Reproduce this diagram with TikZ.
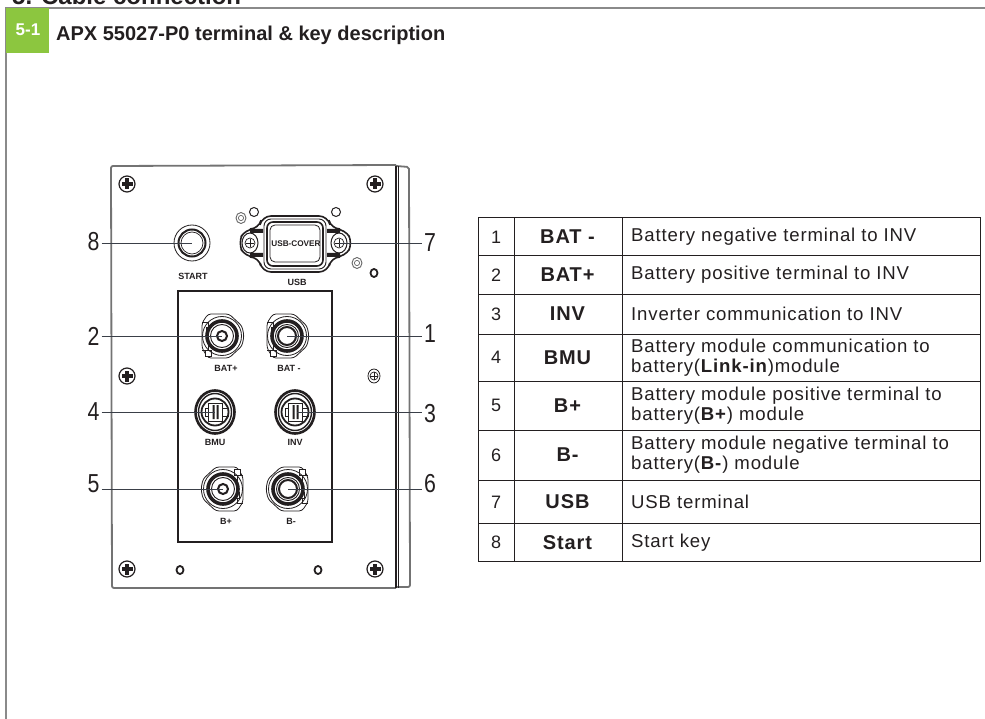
\documentclass[tikz,border=0pt]{standalone}
\usepackage{fontspec}
\setmainfont{Liberation Sans}
\newfontfamily\tblfont[LetterSpace=4.5]{Liberation Sans}
\usetikzlibrary{calc}
\definecolor{ink}{HTML}{231F20}
\definecolor{leafgreen}{HTML}{8CC63F}
\definecolor{frame}{HTML}{8A8A8A}
\definecolor{leadcol}{HTML}{3A3F48}
\tikzset{
  x=1pt,y=-1pt,
  panel/.style={draw=ink,line width=1pt},
  panelgray/.style={draw=black!55,line width=1.8pt},
  leader/.style={draw=leadcol,line width=.9pt},
  grid/.style={draw=ink,line width=1pt},
  callout/.style={text=ink,font=\fontsize{26}{26}\selectfont,inner sep=0pt},
  tiny/.style={text=ink,font=\bfseries\fontsize{9}{9}\selectfont,inner sep=0pt},
  num/.style={text=ink,font=\tblfont\fontsize{18}{18}\selectfont,inner sep=0pt},
  key/.style={text=ink,font=\tblfont\bfseries\fontsize{20}{20}\selectfont,inner sep=0pt},
  desc/.style={text=ink,font=\tblfont\fontsize{18.6}{20}\selectfont,inner sep=0pt,anchor=west,align=left},
  pics/screw/.style={code={
    \draw[ink,line width=1.2pt,fill=white] (0,0) circle (8);
    \fill[ink] (-5.5,-1.7) rectangle (5.5,1.7);
    \fill[ink] (-1.7,-5.5) rectangle (1.7,5.5);
  }},
  pics/hole/.style={code={
    \draw[ink,line width=1.8pt,fill=white] (0,0) ellipse (3.5 and 4);
  }},
  pics/ringlet/.style={code={
    \draw[black!60,line width=.9pt,fill=white] (0,0) ellipse (5 and 5.5);
    \draw[black!60,line width=.7pt] (0,0) circle (2.6);
  }},
  pics/roundport/.style={code={
    \draw[ink,line width=.8pt,fill=white,rounded corners=3pt]
      (-14,-22) -- (7,-22) -- (20,-10) -- (22,0) -- (20,10) -- (7,22) -- (-14,22) -- (-20,12) -- (-20,-13) -- cycle;
    \draw[ink,line width=.8pt] (-20,-14) -- (-14,-14) -- (-14,14) -- (-20,14);
    \draw[ink,line width=.8pt,fill=white] (-17,14) rectangle (-11,20);
    \draw[ink,line width=.8pt,fill=white] (-16,-9) rectangle (-11,-3);
    \draw[ink,line width=.8pt] (0,0) circle (19.5);
    \draw[ink,line width=3.6pt,fill=white] (0,0) circle (15);
    \draw[ink,line width=.9pt] (0,0) circle (11.5);
    \draw[ink,line width=2pt,fill=white] (0,0) circle (#1);
  }},
  pics/usbport/.style={code={
    \draw[ink,line width=2.6pt,fill=white] (0,0) ellipse (19.5 and 21.5);
    \draw[ink,line width=1.4pt] (0,0) ellipse (16.5 and 18.5);
    \draw[ink,line width=1.8pt] (0,0) circle (13.5);
    \draw[ink,line width=1pt,fill=white] (-7,-9) rectangle (7,9);
    \fill[ink] (-2.5,-7) rectangle (-.5,7) (1.5,-7) rectangle (3.5,7);
    \draw[ink,line width=1pt] (-7,-4) rectangle (-10,4);
    \draw[ink,line width=1pt] (7,-4) rectangle (13,4);
  }},
}
\begin{document}
\begin{tikzpicture}
\useasboundingbox (0,0) rectangle (985,719);
\begin{scope}
\clip (0,0) rectangle (985,719);
\node[anchor=base west,inner sep=0pt,text=ink,font=\bfseries\fontsize{24}{24}\selectfont] (chapter) at (12,4.5) {5. Cable connection};
\end{scope}
\draw[frame,line width=1.3pt] (985,8) -- (6,8) -- (6,719);
\node[fill=leafgreen,minimum width=43pt,minimum height=45pt,inner sep=0pt,anchor=north west] (secbox) at (6,7.5) {};
\node[text=white,font=\bfseries\fontsize{17}{17}\selectfont,inner sep=0pt] (secnum) at (28,30) {5-1};
\node[anchor=base west,inner sep=0pt,text=ink,font=\bfseries\fontsize{20}{20}\selectfont] (title) at (56,41) {APX 55027-P0 terminal \& key description};
% device
\draw[panelgray,rounded corners=2pt] (396,166) -- (409,167) -- (410,587) -- (396,587);
\draw[panelgray,rounded corners=2pt] (396,588) -- (112,588) -- (111,166) -- (396,165);
\draw[ink,line width=1.2pt] (396,166) -- (396,588);
\draw[ink,line width=.8pt] (398,166) -- (398,588);
\draw[ink,line width=1.1pt] (178,291) rectangle (332,542);
\pic at (127,184) {screw};
\pic at (375,184) {screw};
\pic at (127,569) {screw};
\pic at (375,569) {screw};
\pic at (127,376) {screw};
\pic at (180,570) {hole};
\pic at (318,570) {hole};
\pic at (374,273) {hole};
\pic at (241,218) {ringlet};
\pic at (357,263) {ringlet};
\draw[ink,line width=.8pt,fill=white] (374,376) ellipse (6 and 7);
\draw[ink,line width=.7pt] (374,376) circle (4);
\draw[ink,line width=.7pt] (370,376) -- (378,376) (374,372) -- (374,380);
% start key
\draw[ink,line width=.8pt,fill=white] (192,243) circle (18);
\draw[ink,line width=2pt] (192,243) circle (13.5);
\draw[ink,line width=.7pt] (192,243) circle (11);
\node[tiny] (lstart) at (193,276) {START};
% usb
\draw[ink,line width=1pt,fill=white] (254,212) circle (4.5);
\draw[ink,line width=1pt,fill=white] (336,212) circle (4.5);
\draw[ink,line width=1.6pt,fill=white,rounded corners=9pt]
  (262,216) -- (328,216) -- (331,229) -- (345,229) -- (353,243) -- (345,257) -- (331,257) -- (328,272) -- (262,272) -- (259,257) -- (245,257) -- (238,243) -- (245,229) -- (259,229) -- cycle;
\draw[ink,line width=.9pt,rounded corners=7pt] (264,219) rectangle (326,269);
\draw[ink,line width=1.6pt,rounded corners=6pt] (267,222) rectangle (323,266);
\draw[ink,line width=.8pt,rounded corners=5pt] (270,225) rectangle (320,262);
\fill[ink] (250,229) rectangle (263,233) (250,253) rectangle (263,257) (327,229) rectangle (340,233) (327,253) rectangle (340,257);
\draw[ink,line width=1pt,fill=white] (250,243) ellipse (8 and 10);
\draw[ink,line width=.7pt] (250,243) circle (5);
\draw[ink,line width=.7pt] (246,243) -- (254,243) (250,239) -- (250,247);
\draw[ink,line width=1pt,fill=white] (339,243) ellipse (8 and 10);
\draw[ink,line width=.7pt] (339,243) circle (5);
\draw[ink,line width=.7pt] (335,243) -- (343,243) (339,239) -- (339,247);
\node[text=ink,font=\bfseries\fontsize{8.2}{8.2}\selectfont,inner sep=0pt] (lcover) at (296,244) {USB-COVER};
\node[tiny] (lusb) at (297,282) {USB};
% ports
\pic at (222,336) {roundport=5};
\pic at (287,336) {roundport=9};
\pic at (215,412) {usbport};
\pic at (295,412) {usbport};
\pic[yscale=-1,xscale=-1] at (223,489) {roundport=5};
\pic[yscale=-1,xscale=-1] at (288,489) {roundport=9};
\node[tiny] (lbatp) at (226,368) {BAT+};
\node[tiny] (lbatm) at (289,368) {BAT -};
\node[tiny] (lbmu) at (215,442) {BMU};
\node[tiny] (linv) at (295,442) {INV};
\node[tiny] (lbp) at (226,521) {B+};
\node[tiny] (lbm) at (291,521) {B-};
% leaders
\coordinate (p8) at (192,243);
\coordinate (p7) at (339,243);
\coordinate (p2) at (222,336);
\coordinate (p1) at (287,336);
\coordinate (p4) at (215,412);
\coordinate (p3) at (297,412);
\coordinate (p5) at (223,489);
\coordinate (p6) at (288,489);
\node[callout] (n8) at (93.5,242) {\scalebox{.82}[1]{8}};
\node[callout] (n2) at (93.5,336) {\scalebox{.82}[1]{2}};
\node[callout] (n4) at (93.5,412) {\scalebox{.82}[1]{4}};
\node[callout] (n5) at (93.5,484) {\scalebox{.82}[1]{5}};
\node[callout] (n7) at (430,243) {\scalebox{.82}[1]{7}};
\node[callout] (n1) at (430,334) {\scalebox{.82}[1]{1}};
\node[callout] (n3) at (430,414) {\scalebox{.82}[1]{3}};
\node[callout] (n6) at (430,484) {\scalebox{.82}[1]{6}};
\foreach \n in {8,2,4,5} \draw[leader] ([xshift=2pt]n\n.east |- p\n) -- (p\n);
\foreach \n in {7,1,3,6} \draw[leader] ([xshift=-2pt]n\n.west |- p\n) -- (p\n);
% table
\draw[grid] (478,218) rectangle (980,561);
\draw[grid] (514,218) -- (514,561) (622,218) -- (622,561);
\foreach \y in {256,295,334,381,430,480,523} \draw[grid] (478,\y) -- (980,\y);
\foreach \i/\y/\k/\d in {
  1/237/BAT -/{Battery negative terminal to INV},
  2/275/BAT+/{Battery positive terminal to INV},
  3/314/INV/{Inverter communication to INV},
  4/357.5/BMU/{Battery module communication to\\battery(\textbf{Link-in})module},
  5/405.5/B+/{Battery module positive terminal to\\battery(\textbf{B+}) module},
  6/455/B-/{Battery module negative terminal to\\battery(\textbf{B-}) module},
  7/502/USB/{USB terminal},
  8/542.5/Start/{Start key}}{
  \node[num] (c\i) at (496,\y) {\i};
  \node[key] (k\i) at (567.5,\y) {\k};
  \node[desc] (d\i) at (631,\y) {\d};
}
\end{tikzpicture}
\end{document}
